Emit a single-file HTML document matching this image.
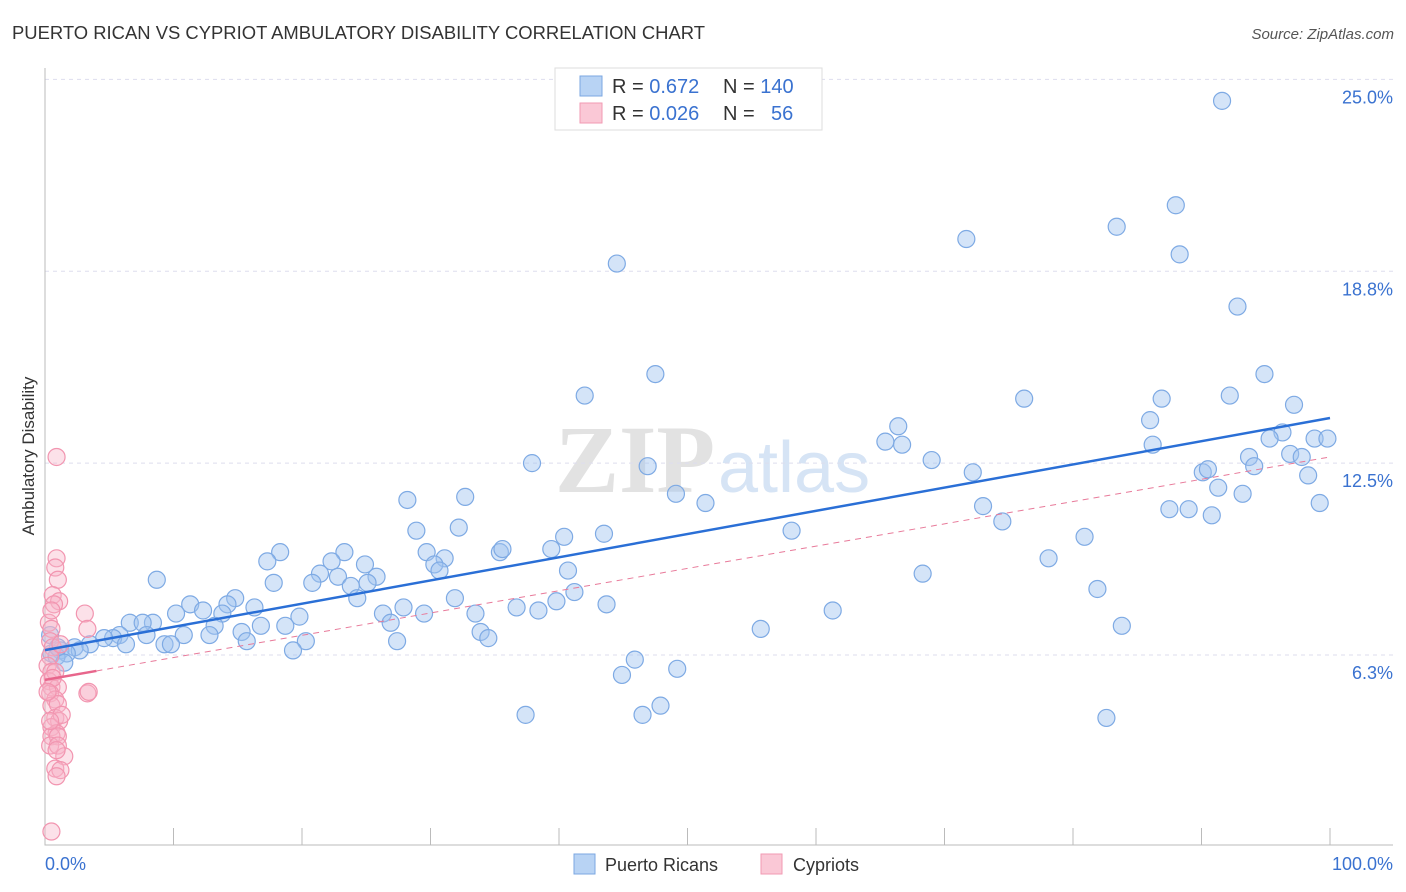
<!DOCTYPE html>
<html><head><meta charset="utf-8"><style>
body{margin:0;background:#fff;font-family:"Liberation Sans",sans-serif;}
</style></head><body>
<svg id="chart" width="1406" height="892" xmlns="http://www.w3.org/2000/svg" style="display:block">
<text x="12" y="39" font-size="18" fill="#333" textLength="693" lengthAdjust="spacingAndGlyphs">PUERTO RICAN VS CYPRIOT AMBULATORY DISABILITY CORRELATION CHART</text>
<text x="1394" y="39" font-size="15" fill="#555" font-style="italic" text-anchor="end">Source: ZipAtlas.com</text>
<g>
<text x="555" y="492" font-family="Liberation Serif,serif" font-size="96" fill="#e2e2e2" font-weight="bold">ZIP</text>
<text x="718" y="492" font-size="72" fill="#d6e4f5">atlas</text>
</g>
<g id="grid"></g>
<g id="axes"></g>
<g id="pts"></g>
<g id="lines"></g>
<text transform="translate(34,456) rotate(-90)" font-size="17" fill="#333" text-anchor="middle">Ambulatory Disability</text>
<g>
<rect x="555" y="68" width="267" height="62" fill="#fff" stroke="#ddd"/>
<rect x="580" y="76" width="22" height="20" fill="#b8d3f4" stroke="#7ba7e2"/>
<rect x="580" y="103" width="22" height="20" fill="#fac8d6" stroke="#f19ab3"/>
<text x="612" y="93" font-size="20" fill="#333">R = <tspan fill="#3a72d0">0.672</tspan><tspan x="723">N = </tspan><tspan fill="#3a72d0">140</tspan></text>
<text x="612" y="120" font-size="20" fill="#333">R = <tspan fill="#3a72d0">0.026</tspan><tspan x="723">N = </tspan><tspan x="771" fill="#3a72d0">56</tspan></text>
</g>
<g>
<rect x="574" y="854" width="21" height="20" fill="#b8d3f4" stroke="#7ba7e2"/>
<text x="605" y="871" font-size="18" fill="#333">Puerto Ricans</text>
<rect x="761" y="854" width="21" height="20" fill="#fac8d6" stroke="#f19ab3"/>
<text x="793" y="871" font-size="18" fill="#333">Cypriots</text>
</g>
</svg>
<script>
const yTicks=[6.3,12.5,18.8,25.0];
const yTickVals=[6.25,12.5,18.75,25];
const blueX=[91.6,88.0,83.4,71.7,88.3,44.5,92.8,47.5,94.9,42.0,86.9,76.2,92.2,97.2,66.4,86.0,96.3,65.4,66.7,95.3,98.8,99.8,86.2,96.9,37.9,46.9,69.0,93.7,97.8,94.1,72.2,90.1,90.5,98.3,91.3,49.1,28.2,32.7,51.4,93.2,99.2,73.0,87.5,89.0,90.8,74.5,32.2,28.9,43.5,58.1,40.4,80.9,23.3,29.7,35.4,35.6,39.4,18.3,17.3,22.3,31.1,30.3,24.9,78.1,21.4,40.7,30.7,22.8,25.8,68.3,8.7,17.8,20.8,25.1,23.8,41.2,81.9,24.3,31.9,14.8,11.3,39.8,43.7,14.2,27.9,36.7,38.4,16.3,12.3,61.3,10.2,13.8,26.3,33.5,29.5,19.8,8.4,6.6,7.6,26.9,13.2,16.8,18.7,55.7,83.8,15.3,33.9,7.9,10.8,12.8,5.8,5.3,4.6,34.5,15.7,20.3,27.4,6.3,3.5,9.3,9.8,2.3,2.7,19.3,1.2,1.7,0.5,0.9,45.9,49.2,44.9,47.9,37.4,46.5,82.6,0.4,1.0,1.5];
const blueY=[24.3,20.9,20.2,19.8,19.3,19.0,17.6,15.4,15.4,14.7,14.6,14.6,14.7,14.4,13.7,13.9,13.5,13.2,13.1,13.3,13.3,13.3,13.1,12.8,12.5,12.4,12.6,12.7,12.7,12.4,12.2,12.2,12.3,12.1,11.7,11.5,11.3,11.4,11.2,11.5,11.2,11.1,11.0,11.0,10.8,10.6,10.4,10.3,10.2,10.3,10.1,10.1,9.6,9.6,9.6,9.7,9.7,9.6,9.3,9.3,9.4,9.2,9.2,9.4,8.9,9.0,9.0,8.8,8.8,8.9,8.7,8.6,8.6,8.6,8.5,8.3,8.4,8.1,8.1,8.1,7.9,8.0,7.9,7.9,7.8,7.8,7.7,7.8,7.7,7.7,7.6,7.6,7.6,7.6,7.6,7.5,7.3,7.3,7.3,7.3,7.2,7.2,7.2,7.1,7.2,7.0,7.0,6.9,6.9,6.9,6.9,6.8,6.8,6.8,6.7,6.7,6.7,6.6,6.6,6.6,6.6,6.5,6.4,6.4,6.4,6.3,6.3,6.2,6.1,5.8,5.6,4.6,4.3,4.3,4.2,6.9,6.5,6.0];
const pinkX=[0.9,0.9,0.8,1.0,0.6,1.1,0.7,3.1,0.3,0.5,3.3,0.4,0.6,0.4,0.2,0.5,0.3,0.5,1.0,0.4,3.3,3.4,0.8,0.5,1.0,0.8,1.1,0.5,0.9,0.5,1.0,0.4,1.0,1.5,0.8,1.2,0.9,0.5,0.5,0.8,0.6,1.2,0.2,1.3,0.4,0.9];
const pinkY=[12.7,9.4,9.1,8.7,8.2,8.0,7.9,7.6,7.3,7.1,7.1,6.7,6.5,6.2,5.9,5.7,5.4,5.2,5.2,5.0,5.0,5.05,4.8,4.6,4.65,4.2,4.1,3.9,3.7,3.6,3.6,3.3,3.3,2.95,2.55,2.5,2.3,0.5,7.7,5.7,5.5,6.6,5.05,4.3,4.1,3.15];
const blueFit=[6.41,13.97];
const pinkFit=[5.44,12.7];
const X=v=>45+v*12.85;
const Y=v=>655-(v-6.25)*30.7;
const NS="http://www.w3.org/2000/svg";
function mk(tag,attrs,parent){const e=document.createElementNS(NS,tag);for(const k in attrs)e.setAttribute(k,attrs[k]);parent.appendChild(e);return e;}
const grid=document.getElementById('grid'),axes=document.getElementById('axes'),pts=document.getElementById('pts'),lines=document.getElementById('lines');
yTickVals.forEach((v,i)=>{
 const l=mk('line',{x1:45,x2:1393,y1:Y(v),y2:Y(v),stroke:'#dde',"stroke-dasharray":'4,4'},grid);
 
 
 const t=mk('text',{x:1393,y:Y(v)+24,"font-size":18,fill:'#3a72d0',"text-anchor":'end'},grid);
 t.textContent=yTicks[i].toFixed(1)+'%';
 
 
});
const ax=mk('path',{d:'M45 68 V845 H1393',fill:'none',stroke:'#bbb'},axes);


for(let i=1;i<=10;i++){const tk=mk('line',{x1:X(i*10),x2:X(i*10),y1:828,y2:845,stroke:'#bbb'},axes);
 
 }
const xl=mk('text',{x:45,y:870,"font-size":18,fill:'#3a72d0'},axes);xl.textContent='0.0%';


const xr=mk('text',{x:1393,y:870,"font-size":18,fill:'#3a72d0',"text-anchor":'end'},axes);xr.textContent='100.0%';


blueX.forEach((x,i)=>{const c=mk('circle',{cx:X(x),cy:Y(blueY[i]),r:8.5,fill:'rgba(160,196,240,0.45)',stroke:'#7eaae4',"stroke-width":1.2},pts);
 
 });
pinkX.forEach((x,i)=>{const c=mk('circle',{cx:X(x),cy:Y(pinkY[i]),r:8.5,fill:'rgba(248,180,200,0.4)',stroke:'#f295b0',"stroke-width":1.2},pts);
 
 });
const bl=mk('line',{x1:X(0),y1:Y(blueFit[0]),x2:X(100),y2:Y(blueFit[1]),stroke:'#2a6fd6',"stroke-width":2.5},lines);


const pe=v=>pinkFit[0]+(pinkFit[1]-pinkFit[0])*v/100;
const pd=mk('line',{x1:X(4),y1:Y(pe(4)),x2:X(100),y2:Y(pinkFit[1]),stroke:'#e87a9a',"stroke-width":1,"stroke-dasharray":'6,5'},lines);


const ps=mk('line',{x1:X(0),y1:Y(pinkFit[0]),x2:X(4),y2:Y(pe(4)),stroke:'#e8668c',"stroke-width":2.5},lines);


</script>
</body></html>
